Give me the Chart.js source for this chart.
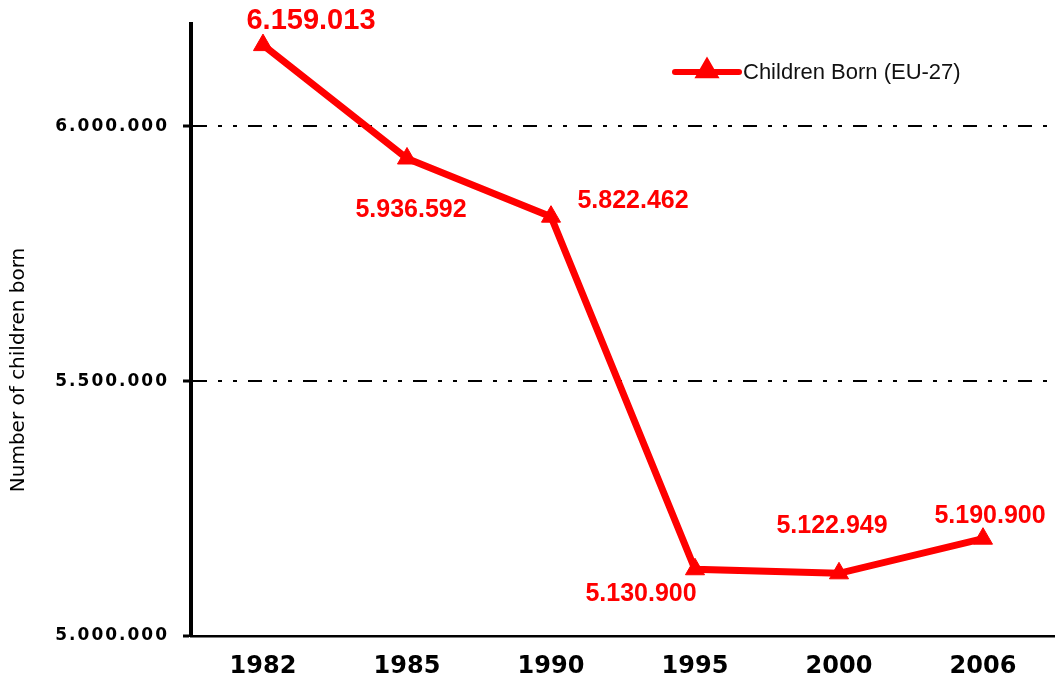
<!DOCTYPE html>
<html lang="en">
<head>
    <meta charset="UTF-8">
    <title>Children Born (EU-27)</title>
    <style>
        html, body { margin: 0; padding: 0; overflow: hidden; background: #fff; }
        #wrap { width: 1055px; height: 686px; position: relative; }
    </style>
</head>
<body>
    <div id="wrap">
        <canvas id="birthsChart"></canvas>
    </div>

    <script src="https://cdn.jsdelivr.net/npm/chart.js"></script>
    <script>
        // data
        const years = ['1982', '1985', '1990', '1995', '2000', '2006'];
        const childrenBorn = [6159013, 5936592, 5822462, 5130900, 5122949, 5190900];
        const yTicks = [5000000, 5500000, 6000000];
        const seriesName = 'Children Born (EU-27)';
        const yTitle = 'Number of children born';

        // where each value label sits relative to its marker (style only)
        const labelOffsets = [[48, -24], [4, 52], [82, -16], [-54, 25], [-7, -47], [7, -23]];
        const labelSizes = [29, 25, 25, 25, 25, 25];

        function dotted(v) {
            return String(Math.round(v)).replace(/\B(?=(\d{3})+(?!\d))/g, '.');
        }

        // wide spacing for the y axis text, switched off again before the line is drawn
        const spacingPlugin = {
            id: 'spacing',
            beforeDraw(chart) { chart.ctx.letterSpacing = '2px'; },
            beforeDatasetsDraw(chart) { chart.ctx.letterSpacing = '0px'; }
        };

        const valueLabels = {
            id: 'valueLabels',
            afterDatasetsDraw(chart) {
                const ctx = chart.ctx;
                const meta = chart.getDatasetMeta(0);
                ctx.save();
                ctx.fillStyle = '#ff0000';
                ctx.textAlign = 'center';
                ctx.textBaseline = 'middle';
                meta.data.forEach((pt, i) => {
                    ctx.font = 'bold ' + labelSizes[i] + 'px "Liberation Sans", Arial, sans-serif';
                    ctx.fillText(dotted(childrenBorn[i]), pt.x + labelOffsets[i][0], pt.y + labelOffsets[i][1]);
                });
                ctx.restore();
            }
        };

        // y title and the small legend in the top right
        const extras = {
            id: 'extras',
            afterDraw(chart) {
                const ctx = chart.ctx;
                ctx.save();
                ctx.letterSpacing = '0px';
                ctx.fillStyle = '#000';
                ctx.font = '20px "DejaVu Sans", Verdana, sans-serif';
                ctx.textAlign = 'center';
                ctx.textBaseline = 'middle';
                ctx.translate(19, 370);
                ctx.rotate(-Math.PI / 2);
                ctx.fillText(yTitle, 0, 0);
                ctx.restore();

                ctx.save();
                ctx.strokeStyle = '#ff0000';
                ctx.lineWidth = 6;
                ctx.lineCap = 'round';
                ctx.beginPath();
                ctx.moveTo(675, 72);
                ctx.lineTo(739, 72);
                ctx.stroke();
                ctx.fillStyle = '#ff0000';
                Chart.helpers.drawPoint(ctx, { pointStyle: 'triangle', radius: 8.5, rotation: 0, borderWidth: 1 }, 707, 71);
                ctx.fillStyle = '#111';
                ctx.font = '22px "Liberation Sans", Arial, sans-serif';
                ctx.textAlign = 'left';
                ctx.textBaseline = 'middle';
                ctx.fillText(seriesName, 743, 73);
                ctx.restore();
            }
        };

        new Chart(document.getElementById('birthsChart'), {
            type: 'line',
            data: {
                labels: years,
                datasets: [{
                    label: seriesName,
                    data: childrenBorn,
                    borderColor: '#ff0000',
                    backgroundColor: '#ff0000',
                    borderWidth: 7,
                    tension: 0,
                    fill: false,
                    pointStyle: 'triangle',
                    pointRadius: 11,
                    pointBorderWidth: 1,
                    pointBackgroundColor: '#ff0000',
                    pointBorderColor: '#ff0000'
                }]
            },
            options: {
                responsive: true,
                maintainAspectRatio: false,
                animation: false,
                layout: { autoPadding: false, padding: { top: 23, right: 0, bottom: 0, left: 0 } },
                plugins: {
                    legend: { display: false },
                    tooltip: { enabled: false }
                },
                scales: {
                    x: {
                        offset: true,
                        grid: { display: false, drawTicks: false },
                        border: { color: '#000', width: 2.5 },
                        ticks: {
                            z: 1,
                            color: '#000',
                            padding: 16,
                            font: { family: '"DejaVu Sans", Verdana, sans-serif', size: 24, weight: 'bold' }
                        },
                        afterFit(scale) { scale.height = 50; }
                    },
                    y: {
                        min: 5000000,
                        max: 6200000,
                        afterBuildTicks(scale) {
                            scale.ticks = yTicks.map(v => ({ value: v }));
                        },
                        grid: {
                            color: c => (c.tick && c.tick.value === yTicks[0]) ? 'rgba(0,0,0,0)' : '#000',
                            lineWidth: 2,
                            tickColor: '#000',
                            tickWidth: 3,
                            tickLength: 8,
                            tickBorderDash: []
                        },
                        border: { color: '#000', width: 4, dash: [14, 11, 4, 11, 4, 11] },
                        ticks: {
                            color: '#000',
                            padding: 14,
                            font: { family: '"DejaVu Sans", Verdana, sans-serif', size: 17, weight: 'bold' },
                            callback: v => dotted(v)
                        },
                        afterFit(scale) { scale.width = 191; }
                    }
                }
            },
            plugins: [spacingPlugin, valueLabels, extras]
        });
    </script>
</body>
</html>
